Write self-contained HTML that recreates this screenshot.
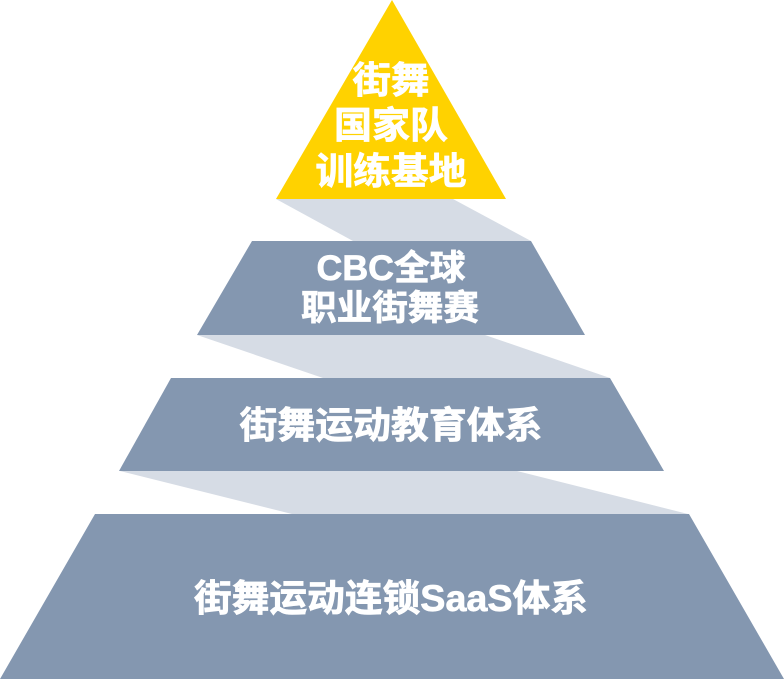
<!DOCTYPE html>
<html><head><meta charset="utf-8"><style>
html,body{margin:0;padding:0;background:#fff;width:784px;height:679px;overflow:hidden}
svg{display:block}
text{font-family:"Liberation Sans","Noto Sans CJK SC",sans-serif;font-weight:700;fill:#fff;stroke:#fff;stroke-width:.7px;text-anchor:middle}
</style></head><body>
<svg width="784" height="679" viewBox="0 0 784 679" xmlns="http://www.w3.org/2000/svg">
<polygon points="276,199 453,199 531,241 353,241" fill="#d6dce5"/>
<polygon points="197,335 485,335 610,378 323,378" fill="#d6dce5"/>
<polygon points="120,471 517,471 688,514 292,514" fill="#d6dce5"/>
<polygon points="392,0 506,199 276,199" fill="#ffd200"/>
<polygon points="252,241 531,241 585,335 197,335" fill="#8497b0"/>
<polygon points="171,378 610,378 664,471 119,471" fill="#8497b0"/>
<polygon points="95,514 689,514 784,679 0,679" fill="#8497b0"/>
<text x="391" y="93" font-size="37" textLength="77" lengthAdjust="spacingAndGlyphs">街舞</text>
<text x="391" y="138" font-size="37" textLength="114" lengthAdjust="spacingAndGlyphs">国家队</text>
<text x="391" y="184" font-size="37" textLength="151" lengthAdjust="spacingAndGlyphs">训练基地</text>
<text x="391" y="280" font-size="35" textLength="149" lengthAdjust="spacingAndGlyphs">CBC全球</text>
<text x="390" y="320" font-size="35" textLength="178" lengthAdjust="spacingAndGlyphs">职业街舞赛</text>
<text x="391" y="438" font-size="37" textLength="303" lengthAdjust="spacingAndGlyphs">街舞运动教育体系</text>
<text x="391" y="611" font-size="37" textLength="394" lengthAdjust="spacingAndGlyphs">街舞运动连锁SaaS体系</text>
</svg>
</body></html>
